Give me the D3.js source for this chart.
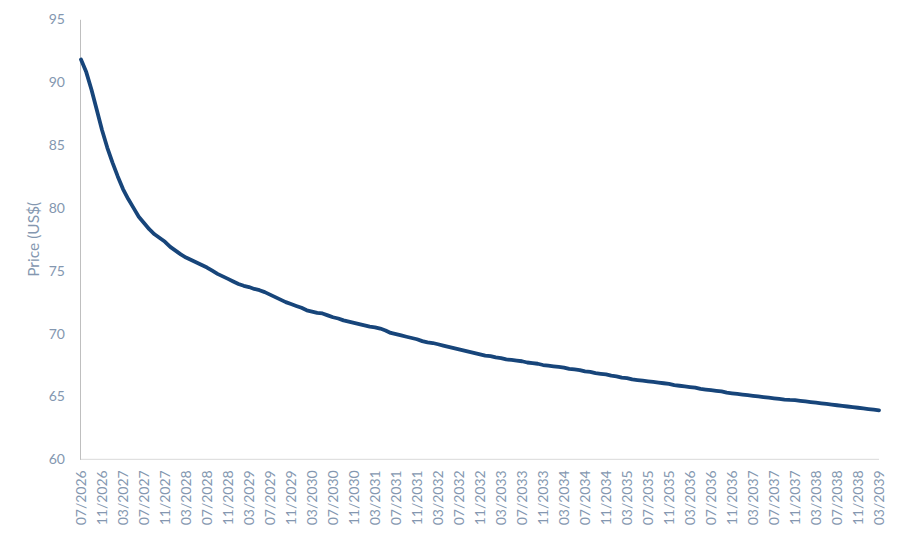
<!DOCTYPE html>
<html lang="en">
<head>
<meta charset="UTF-8">
<title>Price curve</title>
<script src="https://cdn.jsdelivr.net/npm/d3@7"></script>
<style>
    body { margin: 0; background: #fff; }
    text { font-family: Lato, "Open Sans", sans-serif; fill: #8497B0; }
</style>
</head>
<body>
<div id="chart"></div>
<script>
    const width = 900;
    const height = 536;

    // monthly prices, 07/2026 .. 03/2039
    const prices = [
        91.8, 90.8, 89.4, 87.8, 86.2, 84.8, 83.6, 82.5, 81.5, 80.7, 80.0, 79.3,
        78.8, 78.3, 77.9, 77.6, 77.3, 76.9, 76.6, 76.3, 76.05, 75.85, 75.65, 75.45,
        75.25, 75.0, 74.75, 74.55, 74.35, 74.15, 73.95, 73.8, 73.7, 73.55, 73.45, 73.3,
        73.1, 72.9, 72.7, 72.5, 72.35, 72.2, 72.05, 71.85, 71.75, 71.65, 71.6, 71.45,
        71.3, 71.2, 71.05, 70.95, 70.85, 70.75, 70.65, 70.55, 70.5, 70.4, 70.25, 70.05,
        69.95, 69.85, 69.75, 69.65, 69.55, 69.4, 69.3, 69.25, 69.15, 69.05, 68.95, 68.85,
        68.75, 68.65, 68.55, 68.45, 68.35, 68.25, 68.2, 68.1, 68.05, 67.95, 67.9, 67.85,
        67.8, 67.7, 67.65, 67.6, 67.5, 67.45, 67.4, 67.35, 67.3, 67.2, 67.15, 67.1,
        67.0, 66.95, 66.85, 66.8, 66.75, 66.65, 66.6, 66.5, 66.45, 66.35, 66.3, 66.25,
        66.2, 66.15, 66.1, 66.05, 66.0, 65.9, 65.85, 65.8, 65.75, 65.7, 65.6, 65.55,
        65.5, 65.45, 65.4, 65.3, 65.25, 65.2, 65.15, 65.1, 65.05, 65.0, 64.95, 64.9,
        64.85, 64.8, 64.75, 64.72, 64.7, 64.65, 64.6, 64.55, 64.5, 64.45, 64.4, 64.35,
        64.3, 64.25, 64.2, 64.15, 64.1, 64.05, 64.0, 63.95, 63.9
    ];

    const startYear = 2026;
    const startMonth = 7;
    const months = prices.map(function (_, i) {
        const m = (startMonth - 1 + i) % 12 + 1;
        const y = startYear + Math.floor((startMonth - 1 + i) / 12);
        return String(m).padStart(2, "0") + "/" + y;
    });

    const tickLabels = [
        "07/2026", "11/2026", "03/2027", "07/2027", "11/2027", "03/2028", "07/2028",
        "11/2028", "03/2029", "07/2029", "11/2029", "03/2030", "07/2030", "11/2030",
        "03/2031", "07/2031", "11/2031", "03/2032", "07/2032", "11/2032", "03/2033",
        "07/2033", "11/2033", "03/2034", "07/2034", "11/2034", "03/2035", "07/2035",
        "11/2035", "03/2036", "07/2036", "11/2036", "03/2037", "07/2037", "11/2037",
        "03/2038", "07/2038", "11/2038", "03/2039"
    ];
    const yTicks = [60, 65, 70, 75, 80, 85, 90, 95];
    const yTitle = "Price (US$(";

    const plotLeft = 81, plotRight = 879, plotTop = 19.3, plotBottom = 459.3;

    const x = d3.scalePoint().domain(months).range([plotLeft, plotRight]);
    const y = d3.scaleLinear().domain([60, 95]).range([plotBottom, plotTop]);

    const svg = d3.select("#chart").append("svg")
        .attr("width", width)
        .attr("height", height);

    // x axis
    const xAxis = svg.append("g")
        .attr("transform", "translate(0," + plotBottom + ")")
        .call(d3.axisBottom(x).tickValues(tickLabels).tickSize(0).tickPadding(0));
    xAxis.select(".domain").attr("stroke", "#d9d9d9").attr("d", "M" + (plotLeft - 1) + ",0H" + plotRight);
    xAxis.selectAll(".tick text")
        .attr("font-size", 14)
        .attr("text-anchor", "end")
        .attr("dy", "0.35em")
        .attr("transform", "translate(0,11) rotate(-90)")
        .attr("x", 0)
        .attr("y", 0);

    // y axis
    const yAxis = svg.append("g")
        .attr("transform", "translate(" + (plotLeft - 1) + ",0)")
        .call(d3.axisLeft(y).tickValues(yTicks).tickSize(0).tickPadding(15));
    yAxis.select(".domain").attr("stroke", "#bfbfbf");
    yAxis.selectAll(".tick text").attr("font-size", 14);

    svg.append("text")
        .attr("transform", "translate(39," + ((plotTop + plotBottom) / 2) + ") rotate(-90)")
        .attr("text-anchor", "middle")
        .attr("font-size", 15.5)
        .text(yTitle);

    const line = d3.line()
        .x(function (d, i) { return x(months[i]); })
        .y(function (d) { return y(d); });

    svg.append("path")
        .datum(prices)
        .attr("fill", "none")
        .attr("stroke", "#17457A")
        .attr("stroke-width", 3.8)
        .attr("stroke-linecap", "round")
        .attr("stroke-linejoin", "round")
        .attr("d", line);
</script>
</body>
</html>
